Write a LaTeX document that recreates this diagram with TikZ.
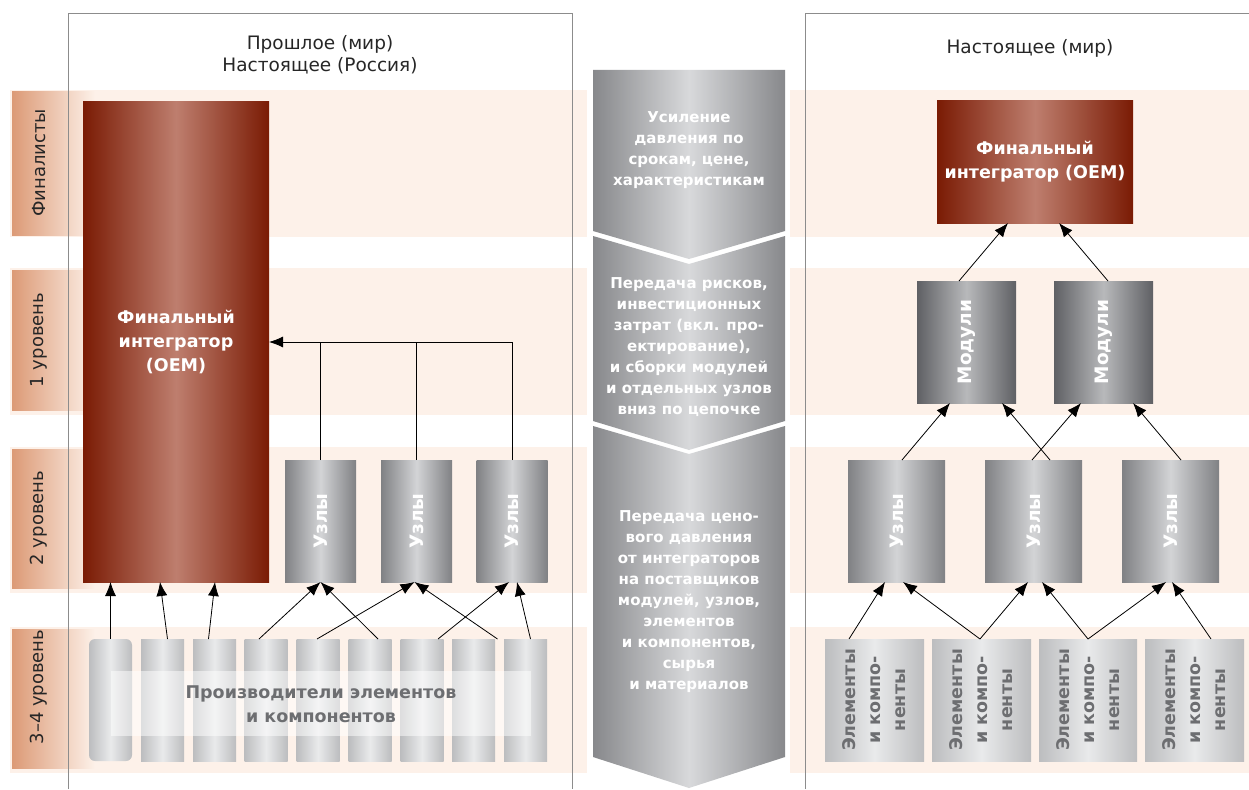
\documentclass[tikz,border=0pt]{standalone}
\usepackage{fontspec}
\setmainfont{DejaVu Sans}
\usetikzlibrary{arrows.meta, calc}

\definecolor{bandpeach}{HTML}{FDF1E9}
\definecolor{lblpeach}{HTML}{DC9A76}
\definecolor{oemdark}{HTML}{7A1B04}
\definecolor{oemlight}{HTML}{BE7E6E}
\definecolor{uzdark}{HTML}{808184}
\definecolor{uzlight}{HTML}{D3D4D6}
\definecolor{moddark}{HTML}{5F6064}
\definecolor{modlight}{HTML}{B8B9BB}
\definecolor{eldark}{HTML}{BCBDBF}
\definecolor{ellight}{HTML}{E9EAEB}
\definecolor{arrdark}{HTML}{87888B}
\definecolor{arrlight}{HTML}{D8D9DB}
\definecolor{txtgray}{HTML}{6D6E71}
\definecolor{framegray}{HTML}{8C8C8C}

\tikzset{
  band/.style={fill=bandpeach},
  lvlbox/.style={left color=lblpeach, right color=bandpeach},
  lvltext/.style={rotate=90, text=black!85, font=\fontsize{18}{20}\selectfont},
  head/.style={align=center, text=black!85, font=\fontsize{18.5}{22}\selectfont},
  oembox/.style={left color=oemdark, right color=oemdark, middle color=oemlight,
    text=white, align=center, inner sep=0pt, outer sep=0pt,
    font=\fontsize{17.5}{24}\selectfont\bfseries},
  rotlbl/.style={rotate=90, align=center, font=\fontsize{18.5}{25}\selectfont\bfseries},
  uzel/.style={left color=uzdark, right color=uzdark, middle color=uzlight,
    inner sep=0pt, outer sep=0pt, minimum height=122pt,
    label={[rotlbl, text=white]center:#1}},
  modul/.style={left color=moddark, right color=moddark, middle color=modlight,
    inner sep=0pt, outer sep=0pt, minimum width=99pt, minimum height=122pt,
    label={[rotlbl, text=white]center:#1}},
  elem/.style={left color=eldark, right color=eldark, middle color=ellight,
    inner sep=0pt, outer sep=0pt, minimum height=122pt,
    label={[rotlbl, text=txtgray, font=\fontsize{17.5}{25}\selectfont\bfseries]center:#1}},
  prod/.style={left color=eldark, right color=eldark, middle color=ellight,
    inner sep=0pt, outer sep=0pt, minimum width=43pt, minimum height=122pt},
  arrtext/.style={align=center, text=white, font=\fontsize{15}{21}\selectfont\bfseries},
  link/.style={->, black, line width=0.8pt},
}

\begin{document}
\begin{tikzpicture}[x=1pt, y=-1pt, >={Latex[length=14pt,width=11pt]}]
\useasboundingbox (0,0) rectangle (1249,789);

%the bands
\fill[band] (10,90) rectangle (587,237);
\fill[band] (10,268) rectangle (587,415);
\fill[band] (10,447) rectangle (587,593);
\fill[band] (10,627) rectangle (587,773);
\fill[band] (790,90) rectangle (1249,237);
\fill[band] (790,268) rectangle (1249,415);
\fill[band] (790,447) rectangle (1249,593);
\fill[band] (790,627) rectangle (1249,773);

%the level labels
\shade[lvlbox] (12,92) rectangle (95,235);
\shade[lvlbox] (12,270) rectangle (95,410);
\shade[lvlbox] (12,449) rectangle (95,588);
\shade[lvlbox] (12,629) rectangle (95,768);
\node[lvltext] (lvl0) at (39,163) {Финалисты};
\node[lvltext] (lvl1) at (39,340) {1 уровень};
\node[lvltext] (lvl2) at (39,518) {2 уровень};
\node[lvltext] (lvl3) at (39,687) {3–4 уровень};

%the frames
\draw[framegray, line width=0.8pt] (68,789) -- (68,13) -- (572,13) -- (572,789);
\draw[framegray, line width=0.8pt] (805,789) -- (805,13) -- (1249,13);
\node[head] (past) at (320,55) {Прошлое (мир)\\Настоящее (Россия)};
\node[head] (now) at (1030,48) {Настоящее (мир)};

%the pressure arrow
\shade[left color=arrdark, right color=arrdark, middle color=arrlight]
  (593,70) -- (785,70) -- (785,231) -- (689,259) -- (593,231) -- cycle;
\shade[left color=arrdark, right color=arrdark, middle color=arrlight]
  (593,236) -- (689,264) -- (785,236) -- (785,421) -- (689,450) -- (593,421) -- cycle;
\shade[left color=arrdark, right color=arrdark, middle color=arrlight]
  (593,426) -- (689,454) -- (785,426) -- (785,757) -- (689,788) -- (593,757) -- cycle;
\node[arrtext] (t1) at (689,150) {Усиление\\давления по\\срокам, цене,\\характеристикам};
\node[arrtext] (t2) at (689,347) {Передача рисков,\\инвестиционных\\затрат (вкл. про-\\ектирование),\\и сборки модулей\\и отдельных узлов\\вниз по цепочке};
\node[arrtext] (t3) at (689,602) {Передача цено-\\вого давления\\от интеграторов\\на поставщиков\\модулей, узлов,\\элементов\\и компонентов,\\сырья\\и материалов};

%past: integrator, nodes, producers
\node[oembox, minimum width=186pt, minimum height=480pt] (oemL) at (176,342) {Финальный\\интегратор\\(OEM)};
\node[uzel=Узлы, minimum width=71pt] (u1) at (320.5,521) {};
\node[uzel=Узлы, minimum width=71pt] (u2) at (416.5,521) {};
\node[uzel=Узлы, minimum width=71pt] (u3) at (512,521) {};

\node[prod, rounded corners=6pt] (p1) at (110.5,700) {};
\node[prod] (p2) at (162.5,700) {};
\node[prod] (p3) at (214.5,700) {};
\node[prod] (p4) at (266,700) {};
\node[prod] (p5) at (318,700) {};
\node[prod] (p6) at (370,700) {};
\node[prod] (p7) at (422,700) {};
\node[prod] (p8) at (473.5,700) {};
\node[prod] (p9) at (525.5,700) {};
\fill[white, opacity=0.5] (111,671) rectangle (531,736);
\node[align=center, text=txtgray, font=\fontsize{17.5}{24}\selectfont\bfseries] (prodtxt) at (321,704) {Производители элементов\\и компонентов};

\draw[link] (p1.north) -- (p1.north |- oemL.south);
\draw[link] ($(p2.north)+(5,0)$) -- ($(oemL.south)+(-16,0)$);
\draw[link] ($(p3.north)+(-6,0)$) -- ($(oemL.south)+(39,0)$);
\draw[link] ($(p4.north)+(-7,0)$) -- (u1.south);
\draw[link] ($(p6.north)+(8,0)$) -- (u1.south);
\draw[link] ($(p5.north)+(-1,0)$) -- ($(u2.south)+(-2,0)$);
\draw[link] ($(p8.north)+(24,0)$) -- ($(u2.south)+(-2,0)$);
\draw[link] ($(p7.north)+(16,0)$) -- ($(u3.south)+(-3,0)$);
\draw[link] ($(p9.north)+(5,0)$) -- ($(u3.south)+(5,0)$);

\draw[link] (u3.north) |- (oemL.east);
\draw[black, line width=0.8pt] (u1.north) -- (u1.north |- oemL.east);
\draw[black, line width=0.8pt] (u2.north) -- (u2.north |- oemL.east);

%present: integrator, modules, nodes, elements
\node[oembox, minimum width=196pt, minimum height=122pt] (oemR) at (1035,162) {Финальный\\интегратор (OEM)};
\node[modul=Модули] (m1) at (966.5,342) {};
\node[modul=Модули] (m2) at (1103.5,342) {};
\node[uzel=Узлы, minimum width=97pt] (r1) at (896.5,521) {};
\node[uzel=Узлы, minimum width=97pt] (r2) at (1033.5,521) {};
\node[uzel=Узлы, minimum width=97pt] (r3) at (1170.5,521) {};
\node[elem={Элементы\\и компо-\\ненты}, minimum width=99pt] (e1) at (874.5,700) {};
\node[elem={Элементы\\и компо-\\ненты}, minimum width=99pt] (e2) at (981.5,700) {};
\node[elem={Элементы\\и компо-\\ненты}, minimum width=98pt] (e3) at (1088,700) {};
\node[elem={Элементы\\и компо-\\ненты}, minimum width=99pt] (e4) at (1194.5,700) {};

\draw[link] ($(m1.north)+(-7.5,0)$) -- ($(oemR.south)+(-27,0)$);
\draw[link] ($(m2.north)+(4.5,0)$) -- ($(oemR.south)+(24,0)$);
\draw[link] ($(r1.north)+(5.5,0)$) -- ($(m1.south)+(-16.5,0)$);
\draw[link] ($(r2.north)+(16.5,0)$) -- ($(m1.south)+(35.5,0)$);
\draw[link] ($(r2.north)+(-1.5,0)$) -- ($(m2.south)+(-22.5,0)$);
\draw[link] ($(r3.north)+(10.5,0)$) -- ($(m2.south)+(29.5,0)$);
\draw[link] ($(e1.north)+(-25.5,0)$) -- ($(r1.south)+(-11.5,0)$);
\draw[link] ($(e2.north)+(-1.5,0)$) -- ($(r1.south)+(6.5,0)$);
\draw[link] ($(e2.north)+(-1.5,0)$) -- ($(r2.south)+(-5.5,0)$);
\draw[link] (e3.north) -- ($(r2.south)+(8.5,0)$);
\draw[link] (e3.north) -- ($(r3.south)+(-4.5,0)$);
\draw[link] ($(e4.north)+(16.5,0)$) -- ($(r3.south)+(1.5,0)$);
\end{tikzpicture}
\end{document}
